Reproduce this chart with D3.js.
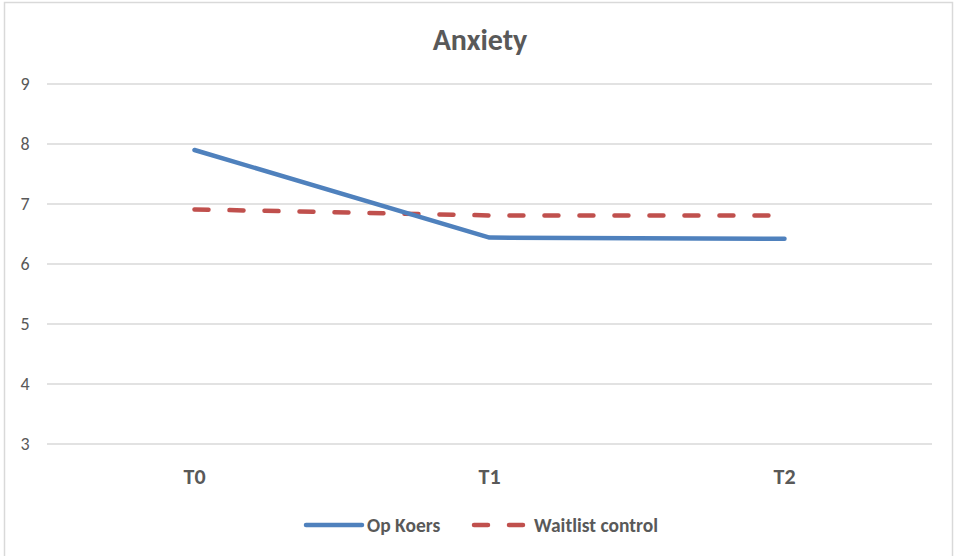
<!DOCTYPE html>
<html><head><meta charset="utf-8">
<script src="https://cdn.jsdelivr.net/npm/d3@7"></script>
<style>
body{margin:0;background:#fff;}
svg{display:block;}
text{font-family:Carlito,"Liberation Sans Narrow","Open Sans",sans-serif;fill:#595959;}
</style></head>
<body>
<svg id="chart" width="955" height="556"></svg>
<script>
const categories = ["T0","T1","T2"];
const opKoers = [7.9, 6.44, 6.42];
const waitlist = [6.91, 6.81, 6.81];
const seriesNames = ["Op Koers","Waitlist control"];
const yTicks = [3,4,5,6,7,8,9];

const FONT = 'Carlito,"Liberation Sans Narrow","Open Sans",sans-serif';
const svg = d3.select("#chart");
svg.append("rect").attr("x",4.5).attr("y",2.5).attr("width",948).attr("height",600)
  .attr("fill","#fff").attr("stroke","#d9d9d9").attr("stroke-width",1.5);

const x = d3.scaleBand().domain(categories).range([47,932]);
const y = d3.scaleLinear().domain([3,9]).range([444,84]);

// gridlines
svg.append("g").selectAll("line").data(yTicks).join("line")
  .attr("x1",47).attr("x2",932)
  .attr("y1",d=>y(d)).attr("y2",d=>y(d))
  .attr("stroke","#d9d9d9").attr("stroke-width",1.5);

// y axis labels
const yAxis = d3.axisLeft(y).tickValues(yTicks).tickFormat(d3.format("d")).tickSize(0).tickPadding(0);
const gy = svg.append("g").attr("transform","translate(25,0)").call(yAxis);
gy.select(".domain").remove();
gy.selectAll("text").attr("font-size",18).style("fill","#595959").attr("text-anchor","middle")
  .style("font-family",FONT);

// x axis labels
const xAxis = d3.axisBottom(x).tickSize(0).tickPadding(0);
const gx = svg.append("g").attr("transform","translate(0,468)").call(xAxis);
gx.select(".domain").remove();
gx.selectAll("text").attr("font-size",22).attr("font-weight","bold").style("fill","#595959")
  .style("font-family",FONT);

const line = d3.line().x((d,i)=>x(categories[i])+x.bandwidth()/2).y(d=>y(d));

svg.append("path").datum(waitlist).attr("d",line).attr("fill","none")
  .attr("stroke","#C0504D").attr("stroke-width",4.5).attr("stroke-linecap","round")
  .attr("stroke-dasharray","14,21");
svg.append("path").datum(opKoers).attr("d",line).attr("fill","none")
  .attr("stroke","#4F81BD").attr("stroke-width",4.5).attr("stroke-linecap","round")
  .attr("stroke-linejoin","round");

// title
svg.append("text").attr("x",480).attr("y",50).attr("text-anchor","middle")
  .attr("font-size",30).attr("font-weight","bold").text("Anxiety");

// legend
const lg = svg.append("g");
lg.append("line").attr("x1",306).attr("x2",362).attr("y1",525).attr("y2",525)
  .attr("stroke","#4F81BD").attr("stroke-width",4.5).attr("stroke-linecap","round");
lg.append("text").attr("x",367).attr("y",531.5).attr("font-size",19.5).attr("font-weight","bold").text(seriesNames[0]);
lg.append("line").attr("x1",474).attr("x2",526).attr("y1",525).attr("y2",525)
  .attr("stroke","#C0504D").attr("stroke-width",4.5).attr("stroke-linecap","round")
  .attr("stroke-dasharray","14,21");
lg.append("text").attr("x",534).attr("y",531.5).attr("font-size",19.5).attr("font-weight","bold").text(seriesNames[1]);
</script>
</body></html>
